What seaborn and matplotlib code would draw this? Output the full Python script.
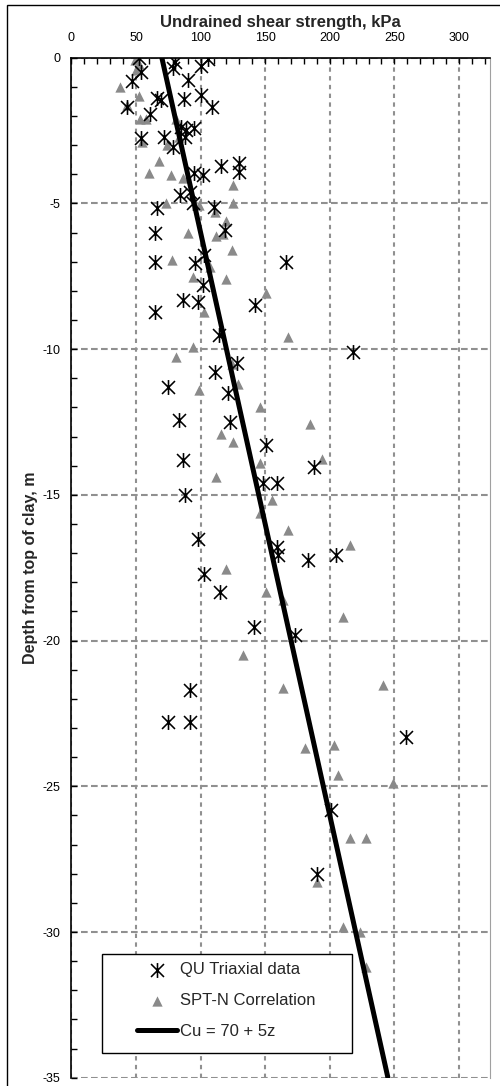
import numpy as np
import pandas as pd
import seaborn as sns
import matplotlib.pyplot as plt
from matplotlib.path import Path
from matplotlib.patches import Rectangle
from matplotlib.ticker import MultipleLocator

# QU triaxial tests (undrained shear strength kPa, depth m)
qu_cu = [52, 80, 79, 106, 100, 54, 47, 90, 66, 69, 87, 100, 109, 43, 61, 85, 89, 95, 88,
         54, 72, 79, 116, 130, 130, 95, 102, 84, 92, 94, 66, 110, 119, 65, 65, 96, 103, 102,
         86, 98, 65, 142, 114, 128, 111, 75, 121, 83, 123, 166, 218, 151, 188, 86, 88, 148,
         159, 98, 159, 160, 183, 205, 103, 115, 141, 173, 92, 75, 92, 259, 201, 190]
qu_depth = [0, -0.15, -0.37, -0.06, -0.3, -0.48, -0.8, -0.75, -1.38, -1.45, -1.43, -1.28,
            -1.7, -1.7, -1.95, -2.37, -2.48, -2.43, -2.71, -2.77, -2.71, -3.06, -3.7, -3.63,
            -3.92, -3.97, -4.03, -4.72, -4.6, -5.0, -5.17, -5.12, -5.92, -6.0, -7.0, -7.06,
            -6.77, -7.8, -8.32, -8.38, -8.72, -8.49, -9.52, -10.49, -10.78, -11.29, -11.52,
            -12.44, -12.5, -7.0, -10.09, -13.29, -14.05, -13.81, -15.01, -14.61, -14.61,
            -16.5, -16.78, -17.07, -17.24, -17.07, -17.7, -18.33, -19.53, -19.81, -21.7,
            -22.79, -22.79, -23.3, -25.82, -28.0]

# SPT-N correlation
spt_cu = [49, 52, 50, 38, 52, 43, 53, 58, 81, 55, 83, 74, 68, 60, 77, 86, 125, 73, 99, 125,
          111, 120, 90, 112, 117, 124, 78, 107, 94, 120, 103, 151, 94, 81, 124, 129, 99, 168,
          146, 116, 125, 185, 194, 146, 112, 155, 146, 168, 216, 120, 151, 164, 210, 133,
          164, 241, 181, 203, 206, 249, 216, 228, 190, 210, 223, 228]
spt_depth = [-0.08, -0.22, -0.43, -1.0, -1.3, -1.63, -2.1, -2.1, -2.1, -2.9, -2.71, -3.0,
             -3.55, -3.97, -4.03, -4.12, -4.37, -4.97, -5.06, -5.0, -5.29, -5.6, -6.0, -6.12,
             -6.05, -6.6, -6.95, -7.18, -7.52, -7.6, -8.72, -8.09, -9.92, -10.26, -10.5,
             -11.18, -11.41, -9.58, -12.0, -12.9, -13.18, -12.58, -13.78, -13.9, -14.38,
             -15.18, -15.64, -16.21, -16.73, -17.53, -18.33, -18.61, -19.19, -20.5, -21.64,
             -21.53, -23.7, -23.59, -24.62, -24.9, -26.79, -26.79, -28.28, -29.83, -30.0,
             -31.2]

# design line Cu = 70 + 5z
trend_cu = [70, 245]
trend_depth = [0, -35]

x_ticks = [0, 50, 100, 150, 200, 250, 300]
y_ticks = [0, -5, -10, -15, -20, -25, -30, -35]

sns.set_style("white")
plt.rcParams["font.family"] = ["Liberation Sans", "DejaVu Sans"]
plt.rcParams["axes.unicode_minus"] = False

# Excel style star: X with a vertical stroke
star = Path([(-1, -1), (1, 1), (-1, 1), (1, -1), (0, -1.15), (0, 1.15)],
            [Path.MOVETO, Path.LINETO, Path.MOVETO, Path.LINETO, Path.MOVETO, Path.LINETO])

qu = pd.DataFrame({"cu": qu_cu, "depth": qu_depth})
spt = pd.DataFrame({"cu": spt_cu, "depth": spt_depth})
trend = pd.DataFrame({"cu": trend_cu, "depth": trend_depth})

fig = plt.figure(figsize=(5, 10.86), dpi=100)
ax = fig.add_axes([0.1428, 0.0076, 0.8372, 0.9393])

sns.scatterplot(data=spt, x="cu", y="depth", marker="^", s=55, color="#8a8a8a",
                linewidth=0, label="SPT-N Correlation", ax=ax, zorder=2)
sns.lineplot(data=trend, x="cu", y="depth", color="black", linewidth=3.6,
             label="Cu = 70 + 5z", ax=ax, zorder=3)
sns.scatterplot(data=qu, x="cu", y="depth", marker=star, s=115, color="black",
                edgecolor="black", linewidth=1.15, label="QU Triaxial data", ax=ax, zorder=4)

ax.set_xlim(0, 324)
ax.set_ylim(-35, 0)

ax.xaxis.tick_top()
ax.xaxis.set_label_position("top")
ax.set_xticks(x_ticks)
ax.set_yticks(y_ticks)
ax.xaxis.set_minor_locator(MultipleLocator(10))
ax.yaxis.set_minor_locator(MultipleLocator(1))
ax.tick_params(axis="x", which="both", direction="in", length=4, width=1, top=True,
               bottom=False, labelsize=9, pad=9.5, colors="black")
ax.tick_params(axis="y", which="both", direction="in", length=4, width=1, left=True,
               labelsize=9, pad=8, colors="black")

ax.xaxis.grid(True, which="major", color="#909090", linestyle=(0, (2.1, 2.1)), linewidth=1.5)
ax.yaxis.grid(True, which="major", color="#909090", linestyle=(0, (3.2, 1.6)), linewidth=1.5)
ax.set_axisbelow(True)

for side in ["left", "top"]:
    ax.spines[side].set_color("black")
    ax.spines[side].set_linewidth(1.2)
ax.spines["right"].set_color("#a0a0a0")
ax.spines["right"].set_linewidth(0.8)
ax.spines["bottom"].set_visible(False)

ax.set_xlabel("Undrained shear strength, kPa", fontsize=12, fontweight="bold", labelpad=4)
ax.set_ylabel("Depth from top of clay, m", fontsize=11.5, fontweight="bold", labelpad=3)

# legend box
ax.add_patch(Rectangle((0.072, 0.024), 0.598, 0.097, transform=ax.transAxes,
                       facecolor="white", edgecolor="black", linewidth=1, zorder=4.5))
handles, labels = ax.get_legend_handles_labels()
order = [labels.index(l) for l in ["QU Triaxial data", "SPT-N Correlation", "Cu = 70 + 5z"]]
leg = ax.legend([handles[i] for i in order], [labels[i] for i in order],
                frameon=False, loc="upper left", bbox_to_anchor=(0.157, 0.113),
                borderpad=0, borderaxespad=0, handlelength=2.4, handletextpad=0.15,
                labelspacing=0.95, fontsize=12)
leg.set_zorder(5)

# outer frame of the figure
fig.add_artist(Rectangle((7 / 500, -0.05), 1.0, 1 - 5 / 1086 + 0.05, transform=fig.transFigure,
                         fill=False, edgecolor="black", linewidth=1))

fig.savefig("out.png", dpi=100)
